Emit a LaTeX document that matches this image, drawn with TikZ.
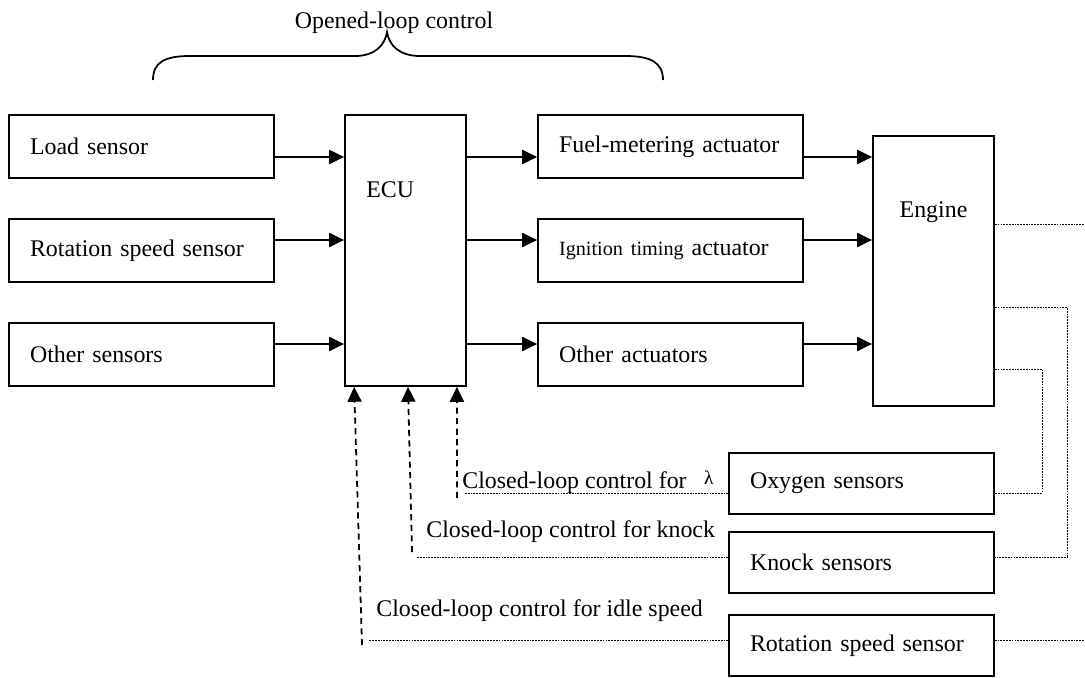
\documentclass[tikz,border=0pt]{standalone}
\usepackage{fontspec}
\setmainfont{Liberation Serif}
\usetikzlibrary{arrows.meta}

\begin{document}
\begin{tikzpicture}[x=0.02cm,y=-0.02cm,
  font=\fontsize{13.6}{16}\selectfont,
  box/.style={draw,line width=1pt,minimum width=5.3cm,minimum height=1.26cm,
    text width=4.46cm,inner xsep=0.42cm,align=left},
  tall/.style={draw,line width=1pt,minimum width=2.42cm,minimum height=5.42cm},
  arr/.style={-{Triangle[length=8.5pt,width=8pt]},line width=1pt},
  fb/.style={arr,line width=1pt,dash pattern=on 3.5pt off 2.5pt},
  sig/.style={line width=0.5pt,dash pattern=on 1pt off 0.6pt},
  lbl/.style={inner sep=0pt,anchor=base west}]
  \useasboundingbox (0,0) rectangle (1085,677);

  \node[box] (load) at (141.5,146.5){Load sensor};
  \node[box] (rot) at (141.5,250.5){Rotation speed sensor};
  \node[box] (oth) at (141.5,354.5){Other sensors};

  \node[tall] (ecu) at (405.5,250.5){};
  \node[lbl] (ecut) at (366,197){ECU};

  \node[box] (fuel) at (670.5,146.5){Fuel-metering actuator};
  \node[box] (ign) at (670.5,250.5){{\fontsize{11.5}{13}\selectfont Ignition timing} actuator};
  \node[box] (otha) at (670.5,354.5){Other actuators};

  \node[tall,minimum height=5.4cm] (eng) at (933.5,271){};
  \node[inner sep=0pt,anchor=base] (engt) at (933.5,217){Engine};

  \node[box,minimum height=1.22cm] (oxy) at (861.5,483.5){Oxygen sensors};
  \node[box,minimum height=1.22cm] (knock) at (861.5,562.5){Knock sensors};
  \node[box,minimum height=1.22cm] (rss) at (861.5,645.5){Rotation speed sensor};

  % open loop
  \draw[line width=1pt] (153,80) .. controls (153,62) and (165,56) .. (190,56)
    -- (355,56) .. controls (375,56) and (385,45) .. (387,32)
    .. controls (389,45) and (399,56) .. (420,56)
    -- (625,56) .. controls (650,56) and (663,62) .. (663,80);
  \node[inner sep=0pt,anchor=base] (olc) at (394,28){Opened-loop control};

  \coordinate (r1) at (0,157);
  \coordinate (r2) at (0,240);
  \coordinate (r3) at (0,344);

  \draw[arr] (load.east |- r1) -- (ecu.west |- r1);
  \draw[arr] (rot.east |- r2) -- (ecu.west |- r2);
  \draw[arr] (oth.east |- r3) -- (ecu.west |- r3);

  \draw[arr] (ecu.east |- r1) -- (fuel.west |- r1);
  \draw[arr] (ecu.east |- r2) -- (ign.west |- r2);
  \draw[arr] (ecu.east |- r3) -- (otha.west |- r3);

  \draw[arr] (fuel.east |- r1) -- (eng.west |- r1);
  \draw[arr] (ign.east |- r2) -- (eng.west |- r2);
  \draw[arr] (otha.east |- r3) -- (eng.west |- r3);

  % closed loops
  \coordinate (lamb) at (457,498);
  \coordinate (knb) at (412,552);
  \coordinate (idb) at (362,645);
  \coordinate (laml) at (465,493);
  \coordinate (knl) at (417,557);
  \coordinate (idl) at (369,640);

  \draw[fb] (lamb) -- ([xshift=-0.2cm]ecu.south east);
  \draw[fb] (knb) -- ([xshift=0.05cm]ecu.south);
  \draw[fb] (idb) -- ([xshift=0.2cm]ecu.south west);

  \draw[sig] (oxy.west |- laml) -- (laml);
  \draw[sig] (knock.west |- knl) -- (knl);
  \draw[sig] (rss.west |- idl) -- (idl);

  \node[lbl] (cl1) at (462,488){Closed-loop control for\hspace{10pt}\raisebox{2pt}{\fontsize{11}{13}\selectfont λ}};
  \node[lbl] (cl2) at (426,537){Closed-loop control for knock};
  \node[lbl] (cl3) at (376,616){Closed-loop control for idle speed};

  \coordinate (eo) at (1085,224);
  \coordinate (knt) at (1067,307);
  \coordinate (oxt) at (1042,369);
  \coordinate (ro) at (1085,640);

  \draw[sig] (eng.east |- eo) -- (eo);
  \draw[sig] (eng.east |- knt) -- (knt) |- (knock.east |- knl);
  \draw[sig] (eng.east |- oxt) -- (oxt) |- (oxy.east |- laml);
  \draw[sig] (rss.east |- idl) -- (ro);

\end{tikzpicture}
\end{document}
